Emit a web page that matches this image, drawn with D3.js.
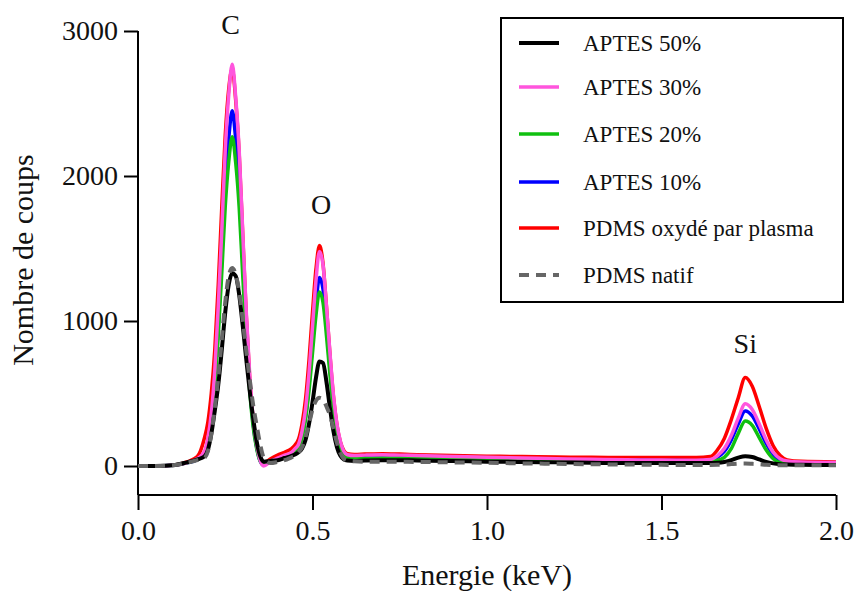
<!DOCTYPE html>
<html><head><meta charset="utf-8">
<script src="https://cdn.jsdelivr.net/npm/d3@7"></script>
<style>body{margin:0;background:#fff}svg{display:block}svg text{font-family:"Liberation Serif","DejaVu Serif","Noto Serif","Times New Roman",serif !important;fill:#111}</style>
</head><body><svg id="c" width="854" height="591"></svg>
<script>
const energy = [0,0.05,0.10,0.14,0.17,0.19,0.20,0.21,0.22,0.23,0.24,0.25,0.26,0.27,0.28,0.29,0.30,0.31,0.32,0.33,0.34,0.35,0.36,0.38,0.40,0.42,0.44,0.45,0.46,0.47,0.48,0.49,0.50,0.51,0.52,0.53,0.54,0.55,0.56,0.57,0.58,0.59,0.60,0.62,0.65,0.70,0.75,0.80,0.90,1.00,1.10,1.20,1.30,1.40,1.50,1.60,1.64,1.66,1.68,1.70,1.72,1.74,1.76,1.78,1.80,1.82,1.84,1.86,1.90,2.00];
const aptes50 = [0,0,5,25,45,65,110,220,380,560,800,1060,1250,1330,1310,1180,970,740,520,330,170,70,30,35,40,55,70,80,95,120,180,290,440,610,720,710,580,400,240,130,70,45,38,35,38,40,40,38,35,30,28,25,22,20,20,20,20,22,28,40,58,68,62,45,28,18,12,10,8,7];
const aptes30 = [0,0,5,22,50,100,190,360,660,1100,1620,2180,2560,2770,2540,2170,1620,1070,630,330,150,40,0,30,55,75,95,120,150,240,390,640,960,1280,1480,1390,1100,780,490,290,170,100,78,72,75,78,75,72,66,60,55,50,46,43,41,40,45,70,120,210,330,430,390,290,180,95,50,35,28,25];
const aptes20 = [0,0,5,22,45,80,155,300,540,900,1330,1790,2100,2270,2090,1780,1320,880,520,270,120,35,10,35,45,58,75,90,120,195,320,520,780,1040,1200,1130,900,630,400,230,130,78,58,52,54,56,55,52,50,45,42,40,38,36,35,34,36,40,60,120,225,310,280,195,110,50,25,20,18,16];
const aptes10 = [0,0,5,22,45,90,170,320,580,970,1430,1930,2260,2450,2250,1920,1430,950,560,290,130,35,8,35,48,62,78,95,130,210,340,560,840,1120,1300,1220,970,680,430,250,140,85,65,58,60,62,62,60,55,50,47,45,42,40,38,37,40,60,100,180,290,380,345,255,155,80,40,28,22,20];
const pdmsOx = [0,0,6,28,65,190,300,500,800,1250,1780,2280,2600,2740,2520,2150,1600,1050,610,315,140,50,20,50,75,95,120,145,185,290,460,730,1060,1360,1520,1400,1100,770,480,285,165,105,85,80,82,85,82,78,72,68,65,62,60,59,58,58,65,110,190,320,470,610,550,410,260,140,72,42,32,28];
const pdmsNatif = [0,0,5,22,40,55,100,220,400,610,870,1130,1310,1365,1320,1200,1010,800,600,420,280,150,60,20,28,40,60,70,95,130,200,290,390,450,470,460,410,350,260,160,90,50,38,32,30,30,29,28,25,22,18,15,12,10,8,7,7,8,10,13,16,17,15,12,8,6,5,5,5,5];
const seriesNames = ["APTES 50%","APTES 30%","APTES 20%","APTES 10%","PDMS oxydé par plasma","PDMS natif"];
const xTicks = [0,0.5,1.0,1.5,2.0];
const yTicks = [0,1000,2000,3000];
const peakLabels = ["C","O","Si"];
const peakEnergy = [0.265,0.525,1.74];
const peakCounts = [2980,1740,780];

const styles = {
  "APTES 50%": {color:"#000000", width:4, dash:null},
  "APTES 30%": {color:"#ff55dd", width:3.5, dash:null},
  "APTES 20%": {color:"#10c010", width:3.5, dash:null},
  "APTES 10%": {color:"#0000ff", width:3.5, dash:null},
  "PDMS oxydé par plasma": {color:"#ff0000", width:3.5, dash:null},
  "PDMS natif": {color:"#666666", width:4, dash:"10,7"}
};
const dataMap = {
  "APTES 50%": aptes50, "APTES 30%": aptes30, "APTES 20%": aptes20,
  "APTES 10%": aptes10, "PDMS oxydé par plasma": pdmsOx, "PDMS natif": pdmsNatif
};
const drawOrder = ["PDMS oxydé par plasma","APTES 10%","APTES 20%","APTES 30%","APTES 50%","PDMS natif"];
const FONT = "'Liberation Serif','DejaVu Serif','Noto Serif',serif";

const svg = d3.select("#c");
const x = d3.scaleLinear().domain([0,2]).range([138,836]);
const y = d3.scaleLinear().domain([-200,3000]).range([495,31]);

const xAxis = svg.append("g").attr("transform","translate(0,495)")
  .call(d3.axisBottom(x).tickValues(xTicks).tickFormat(d3.format(".1f")).tickSize(15).tickPadding(10));
const yAxis = svg.append("g").attr("transform","translate(138,0)")
  .call(d3.axisLeft(y).tickValues(yTicks).tickFormat(d3.format("d")).tickSize(14).tickPadding(6));
[xAxis,yAxis].forEach(a=>{
  a.attr("font-family",FONT);
  a.select(".domain").attr("stroke","#000").attr("stroke-width",2);
  a.selectAll(".tick line").attr("stroke","#000").attr("stroke-width",2);
  a.selectAll(".tick text").attr("font-family",FONT).attr("font-size",28).attr("fill","#111");
});
xAxis.select(".domain").attr("d","M138,0H836");
yAxis.select(".domain").attr("d","M0,31V495");

const line = d3.line().x((d,i)=>x(energy[i])).y(d=>y(d)).curve(d3.curveMonotoneX);
drawOrder.forEach(name=>{
  const s = styles[name];
  svg.append("path").datum(dataMap[name]).attr("d",line)
    .attr("fill","none").attr("stroke",s.color).attr("stroke-width",s.width)
    .attr("stroke-linejoin","round").attr("stroke-dasharray",s.dash);
});

peakLabels.forEach((t,i)=>{
  svg.append("text").attr("x",x(peakEnergy[i])).attr("y",y(peakCounts[i]))
    .attr("font-family",FONT).attr("text-anchor","middle").attr("font-size",28).text(t);
});

svg.append("text").attr("x",487).attr("y",585).attr("font-family",FONT).attr("text-anchor","middle").attr("font-size",30).text("Energie (keV)");
svg.append("text").attr("transform","translate(33,260) rotate(-90)").attr("font-family",FONT).attr("text-anchor","middle").attr("font-size",30).text("Nombre de coups");

const lg = svg.append("g");
lg.append("rect").attr("x",501).attr("y",18).attr("width",342).attr("height",284)
  .attr("fill","#fff").attr("stroke","#000").attr("stroke-width",2);
const legendY = [43,87,134,182,228,275];
seriesNames.forEach((name,i)=>{
  const s = styles[name];
  lg.append("line").attr("x1",519).attr("x2",559).attr("y1",legendY[i]).attr("y2",legendY[i])
    .attr("stroke",s.color).attr("stroke-width",s.width).attr("stroke-dasharray",s.dash);
  lg.append("text").attr("x",583).attr("y",legendY[i]).attr("dy","0.35em").attr("font-family",FONT).attr("font-size",23).text(name);
});
</script></body></html>
